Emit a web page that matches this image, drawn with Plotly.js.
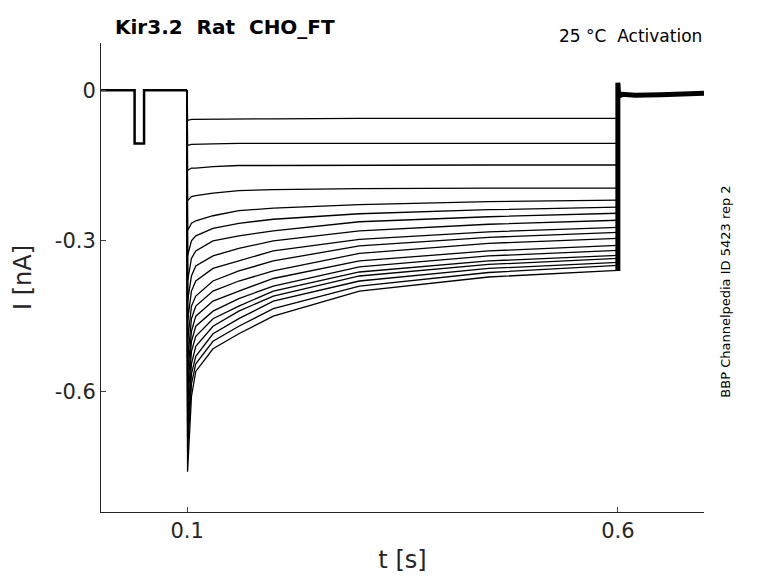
<!DOCTYPE html>
<html>
<head>
<meta charset="utf-8">
<script src="https://cdn.plot.ly/plotly-3.0.1.min.js"></script>
<style>body{margin:0;background:#fff}</style>
</head>
<body>
<div id="graphDiv" style="width:778px;height:583px"></div>
<script>
// sample times for the activation step (s)
let stepTimes = [0.1, 0.1005, 0.105, 0.11, 0.13, 0.16, 0.2, 0.3, 0.45, 0.6];

// current per sweep at stepTimes (nA)
let sweeps = [
    [0, -0.06, -0.058, -0.058, -0.057, -0.057, -0.057, -0.056, -0.056, -0.056],
    [0, -0.11, -0.108, -0.108, -0.107, -0.106, -0.106, -0.106, -0.106, -0.106],
    [0, -0.16, -0.155, -0.155, -0.152, -0.150, -0.150, -0.149, -0.149, -0.149],
    [0, -0.22, -0.212, -0.21, -0.205, -0.200, -0.198, -0.196, -0.195, -0.195],
    [0, -0.28, -0.265, -0.26, -0.25, -0.24, -0.235, -0.228, -0.222, -0.219],
    [0, -0.33, -0.30, -0.29, -0.275, -0.265, -0.257, -0.246, -0.238, -0.233],
    [0, -0.38, -0.335, -0.32, -0.30, -0.29, -0.28, -0.262, -0.252, -0.245],
    [0, -0.42, -0.37, -0.35, -0.33, -0.315, -0.30, -0.28, -0.267, -0.259],
    [0, -0.46, -0.40, -0.38, -0.355, -0.34, -0.32, -0.297, -0.282, -0.273],
    [0, -0.50, -0.43, -0.41, -0.38, -0.36, -0.34, -0.31, -0.293, -0.283],
    [0, -0.54, -0.455, -0.43, -0.40, -0.38, -0.36, -0.325, -0.305, -0.295],
    [0, -0.57, -0.48, -0.45, -0.42, -0.40, -0.375, -0.34, -0.32, -0.309],
    [0, -0.60, -0.50, -0.47, -0.44, -0.415, -0.39, -0.352, -0.33, -0.319],
    [0, -0.63, -0.52, -0.49, -0.455, -0.43, -0.40, -0.362, -0.34, -0.329],
    [0, -0.66, -0.545, -0.51, -0.47, -0.44, -0.41, -0.37, -0.347, -0.335],
    [0, -0.69, -0.565, -0.53, -0.485, -0.455, -0.42, -0.38, -0.355, -0.343],
    [0, -0.72, -0.585, -0.545, -0.50, -0.47, -0.435, -0.39, -0.363, -0.349],
    [0, -0.76, -0.61, -0.56, -0.515, -0.485, -0.45, -0.40, -0.372, -0.359]
];

// holding segments shared by all sweeps
let preTimes = [0, 0.039, 0.039, 0.050, 0.050, 0.1];
let preValues = [0, 0, -0.106, -0.106, 0, 0];
let postTimes = [0.6, 0.6, 0.601, 0.605, 0.62, 0.65, 0.68, 0.7];
let postValues = [-0.36, 0.015, -0.012, -0.008, -0.01, -0.009, -0.008, -0.006];

let data = [];
let lineStyle = {color: 'black', width: 1.3};
data.push({x: preTimes, y: preValues, mode: 'lines', line: {color: 'black', width: 2.5}});
sweeps.forEach(function(s) {
    data.push({x: stepTimes, y: s, mode: 'lines', line: lineStyle});
});
data.push({x: postTimes, y: postValues, mode: 'lines', line: {color: 'black', width: 5}});

let axisFont = {family: 'DejaVu Sans', size: 21, color: '#262626'};
let titleFont = {family: 'DejaVu Sans', size: 24, color: '#262626'};
let layout = {
    width: 778, height: 583,
    margin: {l: 101, r: 74, t: 43, b: 71},
    showlegend: false,
    plot_bgcolor: 'white', paper_bgcolor: 'white',
    font: {family: 'DejaVu Sans'},
    xaxis: {
        range: [0, 0.7], tickvals: [0.1, 0.6], ticktext: ['0.1', '0.6'],
        showgrid: false, zeroline: false, showline: true, linecolor: '#262626',
        ticks: 'inside', ticklen: 5, tickfont: axisFont,
        title: {text: 't [s]', font: titleFont, standoff: 8}
    },
    yaxis: {
        range: [-0.84, 0.094], tickvals: [0, -0.3, -0.6], ticktext: ['0', '-0.3', '-0.6'],
        showgrid: false, zeroline: false, showline: true, linecolor: '#262626',
        ticks: 'inside', ticklen: 5, tickfont: axisFont,
        title: {text: 'I [nA]', font: titleFont, standoff: 16}
    },
    annotations: [
        {text: '<b>Kir3.2  Rat  CHO_FT</b>', xref: 'paper', yref: 'paper', x: 0.02, y: 1.005,
         xanchor: 'left', yanchor: 'bottom', showarrow: false, font: {size: 20, color: 'black'}},
        {text: '25 °C  Activation', xref: 'paper', yref: 'paper', x: 1, y: 0.99,
         xanchor: 'right', yanchor: 'bottom', showarrow: false, font: {size: 17, color: 'black'}},
        {text: 'BBP Channelpedia ID 5423 rep 2', xref: 'paper', yref: 'paper', x: 1.035, y: 0.47,
         xanchor: 'center', yanchor: 'middle', textangle: -90, showarrow: false, font: {size: 13, color: 'black'}}
    ]
};

Plotly.newPlot('graphDiv', data, layout, {displayModeBar: false});
</script>
</body>
</html>
